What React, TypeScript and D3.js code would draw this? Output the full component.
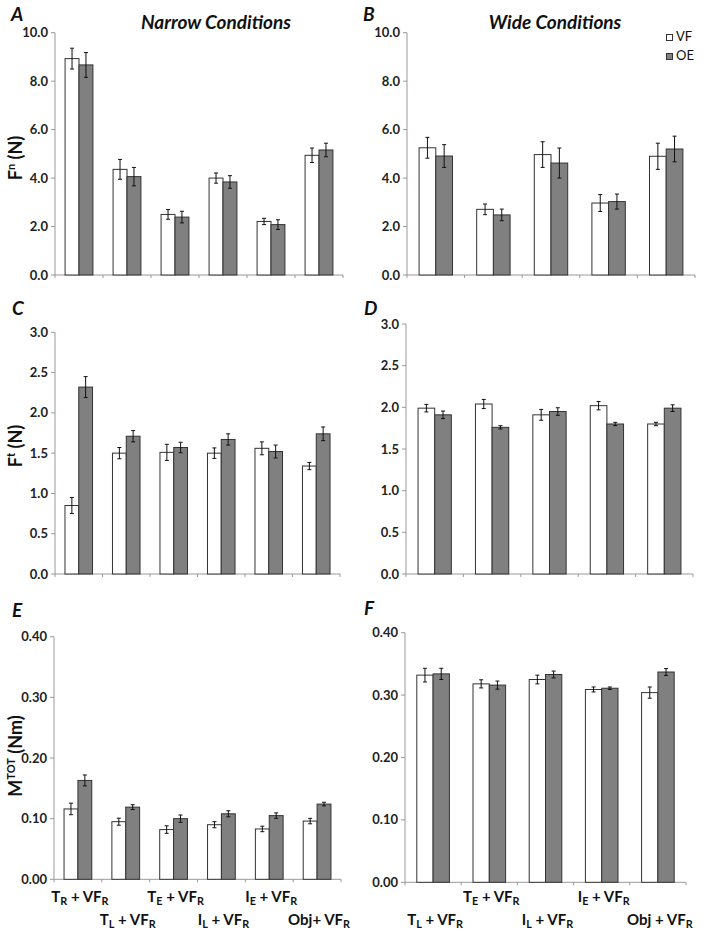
import React from "react";
import * as d3 from "d3";

const narrowLabels = ["T_R + VF_R", "T_L + VF_R", "T_E + VF_R", "I_L + VF_R", "I_E + VF_R", "Obj+ VF_R"];
const wideLabels = ["T_L + VF_R", "T_E + VF_R", "I_L + VF_R", "I_E + VF_R", "Obj + VF_R"];
const seriesNames = ["VF", "OE"];

const fnNarrowVF = [8.93, 4.36, 2.5, 4.0, 2.21, 4.94];
const fnNarrowVFErr = [0.43, 0.41, 0.2, 0.21, 0.13, 0.3];
const fnNarrowOE = [8.67, 4.06, 2.39, 3.84, 2.08, 5.16];
const fnNarrowOEErr = [0.51, 0.38, 0.24, 0.26, 0.2, 0.28];
const fnWideVF = [5.25, 2.71, 4.97, 2.97, 4.9];
const fnWideVFErr = [0.43, 0.22, 0.53, 0.35, 0.54];
const fnWideOE = [4.91, 2.48, 4.62, 3.03, 5.2];
const fnWideOEErr = [0.47, 0.24, 0.62, 0.31, 0.53];

const ftNarrowVF = [0.85, 1.5, 1.51, 1.5, 1.56, 1.34];
const ftNarrowVFErr = [0.1, 0.07, 0.1, 0.065, 0.08, 0.045];
const ftNarrowOE = [2.32, 1.71, 1.57, 1.67, 1.52, 1.74];
const ftNarrowOEErr = [0.13, 0.07, 0.065, 0.07, 0.08, 0.085];
const ftWideVF = [1.99, 2.04, 1.91, 2.02, 1.8];
const ftWideVFErr = [0.045, 0.055, 0.065, 0.05, 0.02];
const ftWideOE = [1.91, 1.76, 1.95, 1.8, 1.99];
const ftWideOEErr = [0.045, 0.02, 0.045, 0.02, 0.04];

const mNarrowVF = [0.116, 0.095, 0.082, 0.09, 0.083, 0.096];
const mNarrowVFErr = [0.0095, 0.0058, 0.0062, 0.005, 0.0045, 0.0045];
const mNarrowOE = [0.163, 0.119, 0.1, 0.108, 0.105, 0.124];
const mNarrowOEErr = [0.009, 0.004, 0.006, 0.005, 0.0045, 0.003];
const mWideVF = [0.332, 0.318, 0.325, 0.309, 0.304];
const mWideVFErr = [0.011, 0.0065, 0.007, 0.004, 0.009];
const mWideOE = [0.334, 0.316, 0.333, 0.311, 0.337];
const mWideOEErr = [0.009, 0.0065, 0.0055, 0.002, 0.0055];

const fnTicks = [0, 2, 4, 6, 8, 10];
const ftTicks = [0, 0.5, 1, 1.5, 2, 2.5, 3];
const mTicks = [0, 0.1, 0.2, 0.3, 0.4];

const FONT = "Lato, 'Open Sans', sans-serif";
const COLORS = ["#ffffff", "#808080"];

function parseSub(s: string) {
  const parts: { t: string; sub: boolean }[] = [];
  let buf = "";
  for (let i = 0; i < s.length; i++) {
    if (s[i] === "_" && i + 1 < s.length) {
      if (buf) parts.push({ t: buf, sub: false });
      buf = "";
      parts.push({ t: s[i + 1], sub: true });
      i++;
    } else buf += s[i];
  }
  if (buf) parts.push({ t: buf, sub: false });
  return parts;
}

function SubText({ x, y, label, size }: { x: number; y: number; label: string; size: number }) {
  const parts = parseSub(label);
  return (
    <text x={x} y={y} textAnchor="middle" fontFamily={FONT} fontWeight="bold" fontSize={size} fill="#111">
      {parts.map((p, i) =>
        p.sub ? (
          <tspan key={i} fontSize={size * 0.72} dy={size * 0.22}>{p.t}</tspan>
        ) : (
          <tspan key={i} dy={i > 0 && parts[i - 1].sub ? -size * 0.22 : 0}>{p.t}</tspan>
        )
      )}
    </text>
  );
}

type PanelProps = {
  left: number;
  right: number;
  top: number;
  bottom: number;
  max: number;
  ticks: number[];
  fmt: string;
  vf: number[];
  vfErr: number[];
  oe: number[];
  oeErr: number[];
};

function Panel({ left, right, top, bottom, max, ticks, fmt, vf, vfErr, oe, oeErr }: PanelProps) {
  const n = vf.length;
  const idx = d3.range(n).map(String);
  const x0 = d3.scaleBand().domain(idx).range([left, right]).padding(0);
  const step = x0.step();
  const groupW = step * 0.58;
  const x1 = d3.scaleBand().domain(seriesNames).range([0, groupW]).padding(0);
  const y = d3.scaleLinear().domain([0, max]).range([bottom, top]);
  const f = d3.format(fmt);
  const data = [
    { vals: vf, errs: vfErr },
    { vals: oe, errs: oeErr },
  ];
  return (
    <g>
      <line x1={left} x2={left} y1={top} y2={bottom} stroke="#999" strokeWidth={1} />
      <line x1={left} x2={right} y1={bottom} y2={bottom} stroke="#999" strokeWidth={1} />
      {ticks.map((t) => (
        <g key={t}>
          <line x1={left - 4} x2={left} y1={y(t)} y2={y(t)} stroke="#999" />
          <text x={left - 7} y={y(t)} dy="0.35em" textAnchor="end" fontFamily={FONT} fontWeight="bold" fontSize={13} fill="#222">
            {f(t)}
          </text>
        </g>
      ))}
      {d3.range(n + 1).map((i) => (
        <line key={i} x1={left + i * step} x2={left + i * step} y1={bottom} y2={bottom + 3} stroke="#999" />
      ))}
      {data.map((s, si) =>
        s.vals.map((v, i) => {
          const bx = (x0(String(i)) as number) + (step - groupW) / 2 + (x1(seriesNames[si]) as number);
          const bw = x1.bandwidth();
          const cx = bx + bw / 2;
          const e = s.errs[i];
          return (
            <g key={si + "-" + i}>
              <rect x={bx} y={y(v)} width={bw} height={bottom - y(v)} fill={COLORS[si]} stroke="#333" strokeWidth={1} />
              <line x1={cx} x2={cx} y1={y(v + e)} y2={y(v - e)} stroke="#111" strokeWidth={1} />
              <line x1={cx - 2} x2={cx + 2} y1={y(v + e)} y2={y(v + e)} stroke="#111" />
              <line x1={cx - 2} x2={cx + 2} y1={y(v - e)} y2={y(v - e)} stroke="#111" />
            </g>
          );
        })
      )}
    </g>
  );
}

function YLabel({ x, y, main, sup, rest }: { x: number; y: number; main: string; sup: string; rest: string }) {
  return (
    <text transform={`translate(${x},${y}) rotate(-90)`} textAnchor="middle" fontFamily={FONT} fontWeight="bold" fontSize={18} fill="#111">
      <tspan>{main}</tspan>
      <tspan fontSize={11} dy={-7}>{sup}</tspan>
      <tspan dy={7}>{rest}</tspan>
    </text>
  );
}

function Letter({ x, y, t }: { x: number; y: number; t: string }) {
  return (
    <text x={x} y={y} fontFamily={FONT} fontWeight="bold" fontStyle="italic" fontSize={19} fill="#111">
      {t}
    </text>
  );
}

export default function App() {
  const L = { left: 55, right: 343 };
  const R = { left: 407, right: 695 };
  return (
    <svg width={704} height={937} style={{ position: "absolute", left: 0, top: 0, background: "#fff" }}>
      <rect width={704} height={937} fill="#fff" />
      <Letter x={11} y={21} t="A" />
      <Letter x={363} y={21} t="B" />
      <Letter x={12} y={315} t="C" />
      <Letter x={364} y={315} t="D" />
      <Letter x={12} y={617} t="E" />
      <Letter x={364} y={615} t="F" />
      <text x={216} y={29} textAnchor="middle" fontFamily={FONT} fontWeight="bold" fontStyle="italic" fontSize={19} fill="#111">
        Narrow Conditions
      </text>
      <text x={555} y={29} textAnchor="middle" fontFamily={FONT} fontWeight="bold" fontStyle="italic" fontSize={19} fill="#111">
        Wide Conditions
      </text>
      {seriesNames.map((s, i) => (
        <g key={s}>
          <rect x={666.5} y={34.5 + i * 19} width={6} height={6} fill={COLORS[i]} stroke="#333" strokeWidth={1} />
          <text x={676} y={41 + i * 19} fontFamily={FONT} fontSize={13} fill="#111">{s}</text>
        </g>
      ))}

      <Panel {...L} top={32.7} bottom={275} max={10} ticks={fnTicks} fmt=".1f" vf={fnNarrowVF} vfErr={fnNarrowVFErr} oe={fnNarrowOE} oeErr={fnNarrowOEErr} />
      <Panel {...R} top={32.7} bottom={275} max={10} ticks={fnTicks} fmt=".1f" vf={fnWideVF} vfErr={fnWideVFErr} oe={fnWideOE} oeErr={fnWideOEErr} />
      <Panel left={55} right={340} top={332.3} bottom={574} max={3} ticks={ftTicks} fmt=".1f" vf={ftNarrowVF} vfErr={ftNarrowVFErr} oe={ftNarrowOE} oeErr={ftNarrowOEErr} />
      <Panel left={406} right={693} top={324} bottom={574} max={3} ticks={ftTicks} fmt=".1f" vf={ftWideVF} vfErr={ftWideVFErr} oe={ftWideOE} oeErr={ftWideOEErr} />
      <Panel left={54} right={341} top={636.7} bottom={879.3} max={0.4} ticks={mTicks} fmt=".2f" vf={mNarrowVF} vfErr={mNarrowVFErr} oe={mNarrowOE} oeErr={mNarrowOEErr} />
      <Panel left={405} right={686} top={632.7} bottom={882.3} max={0.4} ticks={mTicks} fmt=".2f" vf={mWideVF} vfErr={mWideVFErr} oe={mWideOE} oeErr={mWideOEErr} />

      <YLabel x={22} y={158} main="F" sup="n" rest=" (N)" />
      <YLabel x={22} y={446} main="F" sup="t" rest=" (N)" />
      <YLabel x={22} y={756} main="M" sup="TOT" rest=" (Nm)" />

      {narrowLabels.map((lab, i) => (
        <SubText key={lab} x={54 + (i + 0.5) * ((341 - 54) / narrowLabels.length) + 2} y={i % 2 === 0 ? 902 : 925} label={lab} size={15} />
      ))}
      {wideLabels.map((lab, i) => (
        <SubText key={lab} x={405 + (i + 0.5) * ((686 - 405) / wideLabels.length) + 2} y={i % 2 === 0 ? 925 : 902} label={lab} size={15} />
      ))}
    </svg>
  );
}
